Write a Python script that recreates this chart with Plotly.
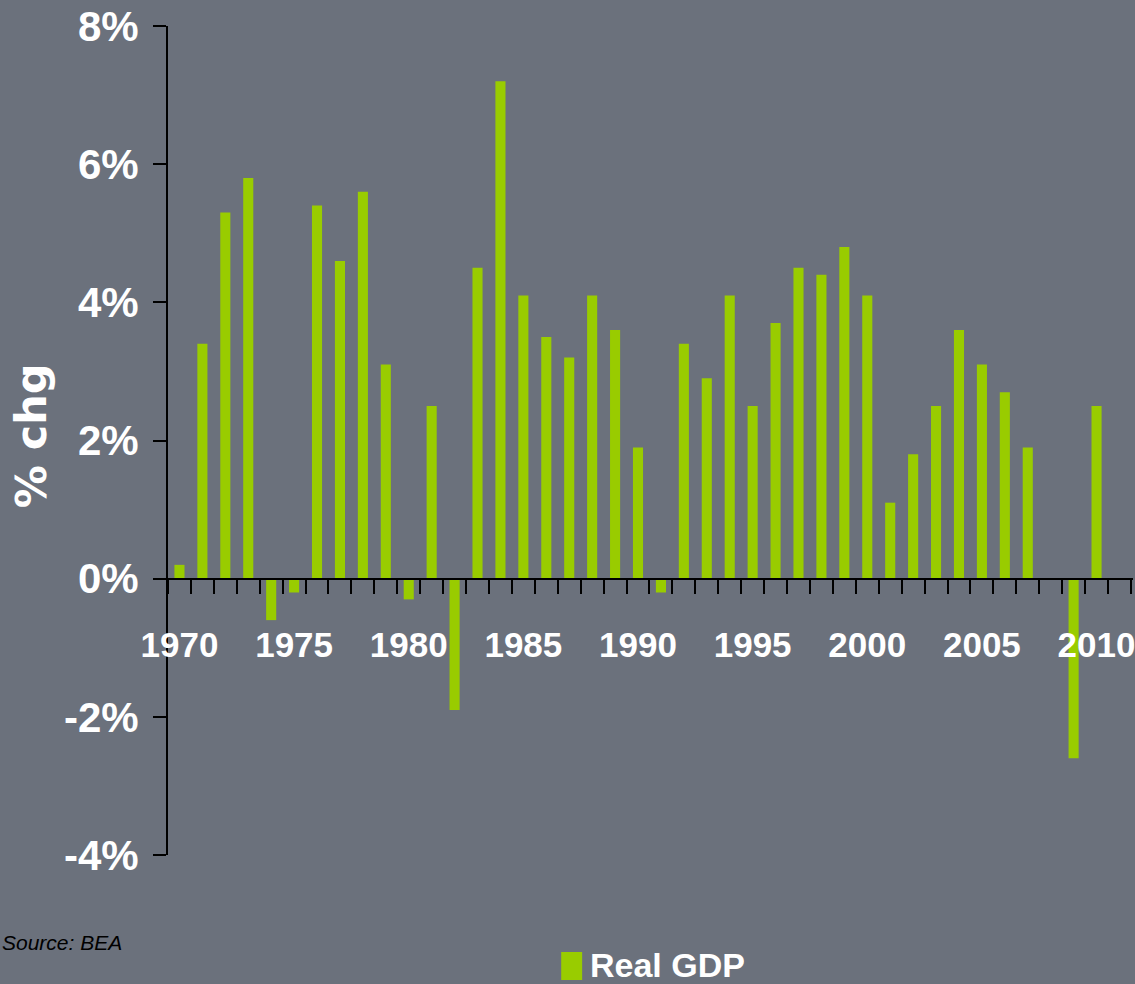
import plotly.graph_objects as go

years = list(range(1970, 2011))
gdp = [0.2, 3.4, 5.3, 5.8, -0.6, -0.2, 5.4, 4.6, 5.6, 3.1,
       -0.3, 2.5, -1.9, 4.5, 7.2, 4.1, 3.5, 3.2, 4.1, 3.6,
       1.9, -0.2, 3.4, 2.9, 4.1, 2.5, 3.7, 4.5, 4.4, 4.8,
       4.1, 1.1, 1.8, 2.5, 3.6, 3.1, 2.7, 1.9, 0.0, -2.6,
       2.5]
label_years = [1970, 1975, 1980, 1985, 1990, 1995, 2000, 2005, 2010]
y_ticks = [-4, -2, 0, 2, 4, 6, 8]
y_ticktext = ["-4%", "-2%", "0%", "2%", "4%", "6%", "8%"]
series_name = "Real GDP"

BG = "#6b717c"
GREEN = "#99cc00"
SANS = "Liberation Sans, Arial, sans-serif"

fig = go.Figure()
fig.add_trace(go.Bar(x=years, y=gdp, name=series_name, marker_color=GREEN,
                     marker_line_width=0, width=0.44, showlegend=False))

minor_vals = [y - 0.5 for y in years] + [years[-1] + 0.5, years[-1] + 1.5]

fig.update_layout(
    width=1135, height=984,
    paper_bgcolor=BG, plot_bgcolor=BG,
    margin=dict(l=168, r=0, t=26, b=129),
    showlegend=False,
    xaxis=dict(
        range=[1969.5, 2011.59],
        anchor="free", position=4 / 12,
        showline=True, linecolor="black", linewidth=2,
        showgrid=False, zeroline=False,
        tickmode="array", tickvals=label_years,
        ticktext=[str(v) for v in label_years],
        ticks="", ticklabelstandoff=35, ticklabeloverflow="allow",
        tickfont=dict(family=SANS, size=35, color="white", weight="bold"),
        minor=dict(tickmode="array", tickvals=minor_vals, ticks="outside",
                   ticklen=14, tickwidth=2, tickcolor="black", showgrid=False),
    ),
    yaxis=dict(
        range=[-4, 8], domain=[0, 1],
        showline=True, linecolor="black", linewidth=2,
        showgrid=False, zeroline=False,
        tickmode="array", tickvals=y_ticks, ticktext=y_ticktext,
        ticks="outside", ticklen=13, tickwidth=2, tickcolor="black",
        ticklabelstandoff=6,
        tickfont=dict(family=SANS, size=42, color="white", weight="bold"),
    ),
)

# y-axis title
fig.add_annotation(text="% chg", xref="paper", yref="paper",
                   x=(31 - 168) / 967, y=(855 - 436) / 829,
                   textangle=-90, showarrow=False, xanchor="center", yanchor="middle",
                   font=dict(family="DejaVu Sans, Liberation Sans, sans-serif", size=43,
                             color="white", weight="bold"))
# source
fig.add_annotation(text="<i>Source: BEA</i>", xref="paper", yref="paper",
                   x=(0 - 168) / 967, y=(855 - 942) / 829,
                   showarrow=False, xanchor="left", yanchor="middle",
                   font=dict(family=SANS, size=21, color="black"))
# legend
fig.add_shape(type="rect", xref="paper", yref="paper",
              x0=(562 - 168) / 967, x1=(583 - 168) / 967,
              y0=(855 - 980) / 829, y1=(855 - 952) / 829,
              fillcolor=GREEN, line_width=0)
fig.add_annotation(text=series_name, xref="paper", yref="paper",
                   x=(589 - 168) / 967, y=(855 - 965) / 829,
                   showarrow=False, xanchor="left", yanchor="middle",
                   font=dict(family=SANS, size=34, color="white", weight="bold"))

fig.write_html("out.html", config={"displayModeBar": False},
               post_script="document.body.style.margin='0';document.body.style.overflow='hidden';")
